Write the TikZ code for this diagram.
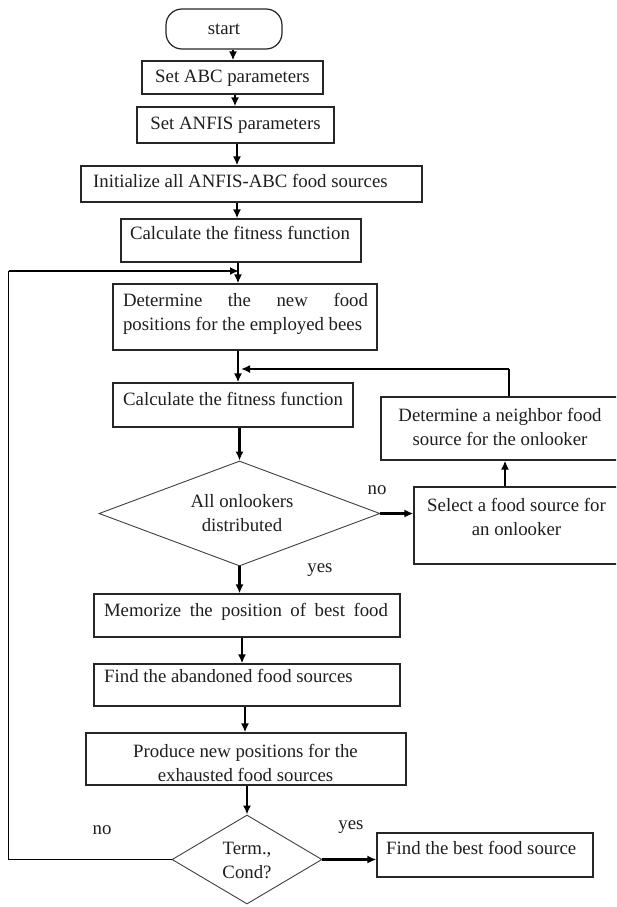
\documentclass[tikz,border=0pt]{standalone}
\usepackage{fontspec}
\setmainfont{Liberation Serif}
\usetikzlibrary{shapes.geometric,arrows.meta}
\begin{document}
\begin{tikzpicture}[x=1pt,y=-1pt,
  box/.style={draw=black!85,line width=1.2pt,inner sep=0pt,rectangle},
  txt/.style={inner sep=0pt,text=black!88,font=\fontsize{18.8}{24}\selectfont},
  one/.style={txt,text height=13pt,text depth=4pt},
  many/.style={txt,align=center},
  dia/.style={draw=black!75,line width=0.9pt,diamond,inner sep=0pt},
  arr/.style={line width=2.2pt,-{Latex[length=9pt,width=8pt]}},
  thinline/.style={line width=1.4pt}]
\useasboundingbox (0,0) rectangle (616,907);
\clip (0,0) rectangle (616,907);
\fill[white] (0,0) rectangle (616,907);

% column coordinates for vertical connectors
\coordinate (c233) at (233,0);
\coordinate (c235) at (235,0);
\coordinate (c237) at (237,0);
\coordinate (c238) at (238,0);
\coordinate (c242) at (242,0);
\coordinate (c245) at (245,0);
\coordinate (c505) at (505,0);
\coordinate (c509) at (509,0);

% boxes
\node[box,rounded corners=16pt,minimum width=116pt,minimum height=40pt] (start) at (224,29) {};
\node[box,minimum width=181pt,minimum height=33pt] (abc) at (232.5,77.5) {};
\node[box,minimum width=197pt,minimum height=36pt] (anfis) at (235.5,125) {};
\node[box,minimum width=341pt,minimum height=36pt] (init) at (251.5,184) {};
\node[box,minimum width=240pt,minimum height=43pt] (calc1) at (241,240.5) {};
\node[box,minimum width=264pt,minimum height=66pt] (det) at (245,317) {};
\node[box,minimum width=240pt,minimum height=44pt] (calc2) at (233,405) {};
\node[box,minimum width=244pt,minimum height=63pt] (nb) at (503,428.5) {};
\node[box,minimum width=211pt,minimum height=77pt] (sel) at (519.5,525.5) {};
\node[dia,minimum width=281pt,minimum height=105pt] (dia1) at (239.5,513.5) {};
\node[box,minimum width=306pt,minimum height=43pt] (mem) at (247,615.5) {};
\node[box,minimum width=306pt,minimum height=42pt] (find) at (247,685) {};
\node[box,minimum width=320pt,minimum height=52pt] (prod) at (246,759) {};
\node[dia,minimum width=150pt,minimum height=89pt] (term) at (247,859.5) {};
\node[box,minimum width=216pt,minimum height=44pt] (best) at (485,855) {};

% texts
\node[one] (startt) at (224,30) {start};
\node[one] (abct) at (232.5,78) {Set ABC parameters};
\node[one] (anfist) at (235.5,125) {Set ANFIS parameters};
\node[one,anchor=west] (initt) at (93,183) {Initialize all ANFIS-ABC food sources};
\node[one] (calc1t) at (240,235) {Calculate the fitness function};
\node[txt,align=left] (dett) at (245.5,313.5) {\makebox[245pt][s]{Determine the new food}\\positions for the employed bees};
\node[one,anchor=west] (calc2t) at (123,401) {Calculate the fitness function};
\node[many] (nbt) at (500,427) {Determine a neighbor food\\source for the onlooker};
\node[many] (selt) at (516.5,516.5) {Select a food source for\\an onlooker};
\node[many] (dia1t) at (242,513.5) {All onlookers\\distributed};
\node[one] (memt) at (246,612) {\makebox[284pt][s]{Memorize the position of best food}};
\node[one,anchor=west] (findt) at (104,678) {Find the abandoned food sources};
\node[many] (prodt) at (245.5,762.5) {Produce new positions for the\\exhausted food sources};
\node[many] (termt) at (247,860) {Term.,\\Cond?};
\node[one,anchor=west] (bestt) at (386,850) {Find the best food source};

% labels
\node[one] (no1) at (377,490) {no};
\node[one] (yes1) at (320,568) {yes};
\node[one] (no2) at (102,830) {no};
\node[one] (yes2) at (351,825) {yes};

% junction points
\coordinate (j1) at (239,271);
\coordinate (lc) at (8.5,271);
\coordinate (j2) at (241,369);
\coordinate (rc) at (509,369);

% main flow
\draw[arr] (start.south -| c233) -- (abc.north -| c233);
\draw[arr] (abc.south -| c235) -- (anfis.north -| c235);
\draw[arr] (anfis.south -| c237) -- (init.north -| c237);
\draw[arr] (init.south -| c237) -- (calc1.north -| c237);
\draw[arr] (calc1.south -| c238) -- (det.north -| c238);
\draw[arr] (det.south -| c238) -- (calc2.north -| c238);
\draw[arr] (calc2.south -| dia1.north) -- (dia1.north);
\draw[arr] (dia1.south) -- (mem.north -| dia1.south);
\draw[arr] (mem.south -| c242) -- (find.north -| c242);
\draw[arr] (find.south -| c245) -- (prod.north -| c245);
\draw[arr] (prod.south -| term.north) -- (term.north);

% branches
\draw[arr] (dia1.east) -- (dia1.east -| sel.west);
\draw[arr] (sel.north -| c505) -- (nb.south -| c505);
\draw[thinline] (nb.north -| c509) -- (rc);
\draw[arr] (rc) -- (j2);
\draw[arr] (term.east) -- (term.east -| best.west);
\draw[thinline] (term.west) -| (lc);
\draw[arr] (lc) -- (j1);
\end{tikzpicture}
\end{document}
